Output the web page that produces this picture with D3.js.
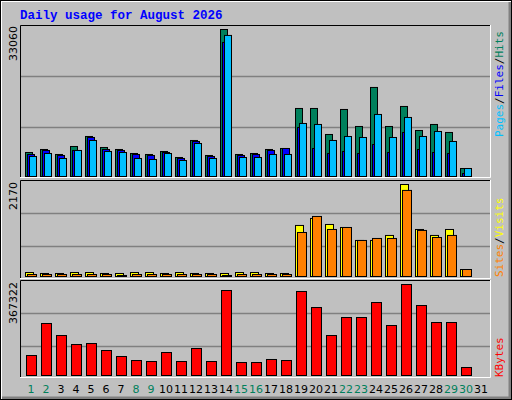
<!DOCTYPE html>
<html><head><meta charset="utf-8">
<script src="https://cdn.jsdelivr.net/npm/d3@7"></script>
<style>body{margin:0;background:#fff}</style></head>
<body><svg id="c" width="512" height="400"></svg>
<script>
const days = d3.range(1,32);
const weekend = [1,2,8,9,15,16,22,23,29,30];
const hits  = [5400,6075,4950,6750,9000,6525,6075,5175,4950,5625,4275,8100,4725,33060,4950,5175,6075,6300,15300,15300,9450,15075,11250,20025,11250,15750,10350,11700,9900,1800,0];
const files = [4950,5850,4725,5850,8775,6075,5850,4950,4725,5400,4050,7875,4500,30150,4725,4950,5850,6300,11025,6300,5175,5625,5175,7200,5400,9900,6075,5400,5175,675,0];
const pages = [4500,5175,4050,5850,8100,5625,5400,4050,3825,5175,3600,7425,4050,31725,4275,4275,4950,4950,11925,11700,8100,9000,8775,13950,8775,13275,9000,10125,7875,1800,0];
const visits = [94,71,71,94,94,71,71,94,94,71,94,71,71,71,94,94,71,71,1204,1369,1227,1156,850,850,968,2170,1109,968,1109,165,0];
const sites  = [47,47,47,47,47,47,24,47,47,47,47,47,47,24,47,47,47,47,1038,1416,1109,1156,850,897,897,2030,1086,920,968,165,0];
const kbytes = [80700,209900,161400,125100,129100,100900,76700,60500,56500,92800,56500,109000,56500,343100,52400,52400,64600,60500,339100,274400,161400,234100,234100,294600,201800,367322,282500,213900,213900,32300,0];
const maxHits = 33060, maxVisits = 2170, maxKB = 367322;

const svg = d3.select("#c");
// outer frame
svg.append("rect").attr("x",0).attr("y",0).attr("width",512).attr("height",400).attr("fill","#c0c0c0");
svg.append("path").attr("d","M1,399V1H511").attr("stroke","#fff").attr("fill","none").attr("stroke-width",2);
svg.append("path").attr("d","M2,398H510V2").attr("stroke","#808080").attr("fill","none").attr("stroke-width",3);
svg.append("rect").attr("x",0.5).attr("y",0.5).attr("width",511).attr("height",399).attr("fill","none").attr("stroke","#000");

svg.append("text").attr("x",20).attr("y",19).text("Daily usage for August 2026")
  .attr("font-family","Liberation Mono, DejaVu Sans Mono, monospace").attr("font-weight","bold")
  .attr("font-size",12.5).attr("fill","#0000ff");

const X0 = 20, X1 = 491;
const x = d3.scaleLinear().domain([1,32]).range([25,25+15*31]);

function panel(top,bottom,gridYs){
  svg.append("path").attr("d",`M${X0+0.5},${bottom}V${top+0.5}H${X1}`).attr("stroke","#000").attr("fill","none");
  svg.append("path").attr("d",`M${X0},${bottom-0.5}H${X1-0.5}V${top}`).attr("stroke","#fff").attr("fill","none");
  gridYs.forEach(g=>svg.append("line").attr("x1",X0+1).attr("x2",X1-1).attr("y1",g+0.5).attr("y2",g+0.5).attr("stroke","#808080").attr("stroke-width",1.5));
}
const y1 = d3.scaleLinear().domain([0,maxHits]).range([176,29]);
const y2 = d3.scaleLinear().domain([0,maxVisits]).range([276,184]);
const y3 = d3.scaleLinear().domain([0,maxKB]).range([375,284]);
panel(25,178,[76,127]);
panel(180,279,[213,246]);
panel(280,378,[313,346]);

function bars(data,y,off,w,color){
  svg.append("g").selectAll("rect").data(days.filter((d,i)=>data[i]>0)).join("rect")
    .attr("x",d=>x(d)+off+0.5).attr("width",w)
    .attr("y",d=>y(data[d-1])+0.5).attr("height",d=>y(0)-y(data[d-1]))
    .attr("fill",color).attr("stroke","#000").attr("stroke-width",1);
}
bars(hits,y1,0,7,"#00805c");
bars(files,y1,2,7,"#0000ff");
bars(pages,y1,4,7,"#00c0ff");
bars(visits,y2,0,8,"#ffff00");
bars(sites,y2,2,9,"#ff8000");
bars(kbytes,y3,1,10,"#ff0000");

// day labels
svg.append("g").selectAll("text").data(days).join("text")
  .attr("x",d=>x(d)+6).attr("y",393).attr("text-anchor","middle")
  .attr("font-family","DejaVu Sans, sans-serif").attr("font-size",11)
  .attr("fill",d=>weekend.includes(d)?"#00805c":"#000").text(d=>d);

// left max labels
function leftLabel(t,yy){
  svg.append("text").attr("transform",`translate(17,${yy}) rotate(-90)`).attr("text-anchor","end")
    .attr("font-family","DejaVu Sans, sans-serif").attr("font-size",11).attr("fill","#000").text(t);
}
leftLabel(String(maxHits),26);
leftLabel(String(maxVisits),182);
leftLabel(String(maxKB),282);

function rightLabel(parts,yy){
  const t = svg.append("text").attr("transform",`translate(503,${yy}) rotate(-90)`)
    .attr("font-family","DejaVu Sans Mono, monospace").attr("font-size",11);
  parts.forEach(p=>t.append("tspan").attr("fill",p[1]).text(p[0]));
}
rightLabel([["Pages","#00c0ff"],["/","#000"],["Files","#0000ff"],["/","#000"],["Hits","#00805c"]],137);
rightLabel([["Sites","#ff8000"],["/","#000"],["Visits","#ffff00"]],277);
rightLabel([["KBytes","#ff0000"]],377);
</script></body></html>
